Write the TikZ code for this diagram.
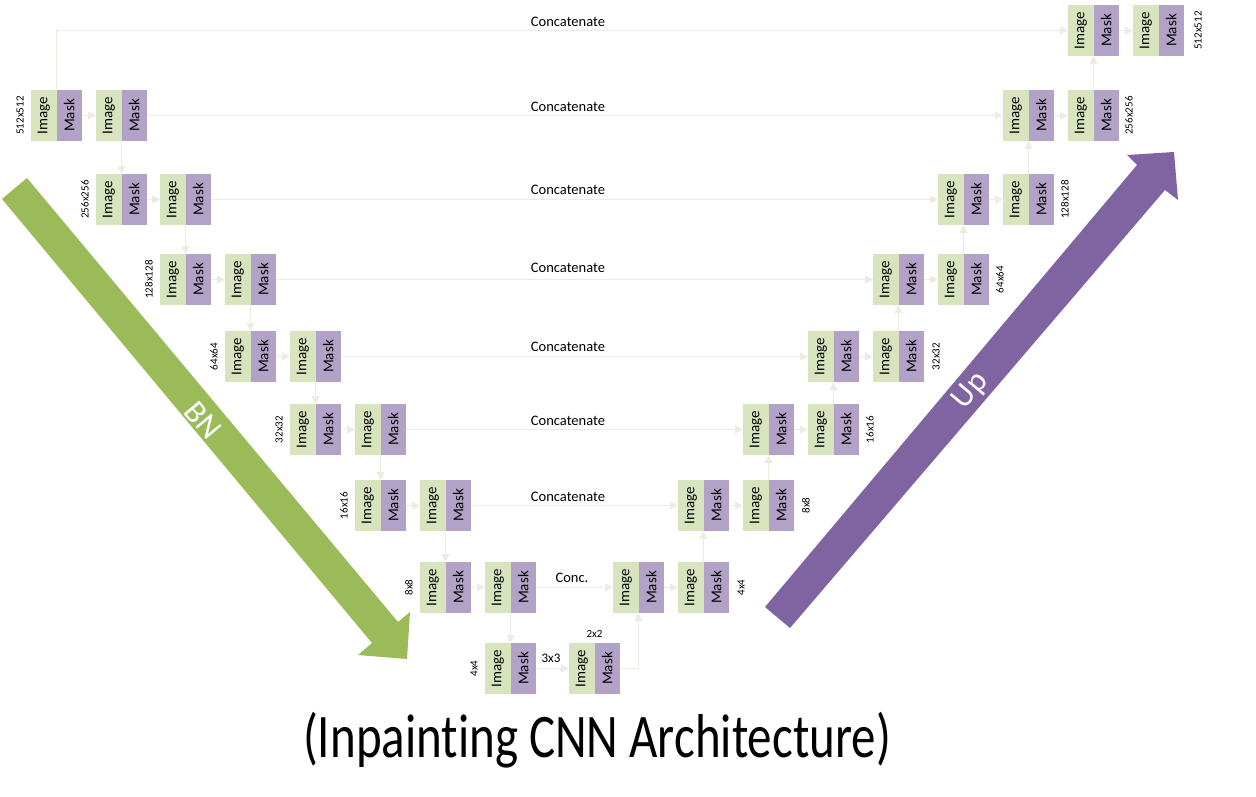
\documentclass[tikz,border=0pt]{standalone}
\usepackage{fontspec}
\setmainfont{Carlito}[Ligatures=NoCommon]
\usepackage{graphicx}
\usetikzlibrary{arrows.meta}
\definecolor{imgc}{HTML}{D7E4BD}
\definecolor{mskc}{HTML}{B3A2C7}
\definecolor{connc}{HTML}{EEECE1}
\definecolor{bnc}{HTML}{9BBB59}
\definecolor{upc}{HTML}{8064A2}
\tikzset{
  partbox/.style={minimum width=25.5pt, minimum height=51pt, inner sep=0pt, outer sep=0pt, font=\fontsize{15}{16}\selectfont},
  imgpart/.style={partbox, fill=imgc},
  mskpart/.style={partbox, fill=mskc},
  link/.style={draw=connc, line width=1.3pt, -{Triangle[length=8pt,width=8pt]}},
  szlab/.style={inner sep=0pt, font=\fontsize{11}{12}\selectfont},
  catlab/.style={inner sep=0pt, font=\fontsize{14.5}{15}\selectfont},
  arrowtext/.style={text=white, inner sep=0pt, font=\fontsize{32}{34}\selectfont},
}
\newcommand\mkblock[3]{%
  \node[imgpart] (#1i) at (#2+12.75,#3+25.5) {\rotatebox{90}{Image}};
  \node[mskpart] (#1m) at (#2+38.25,#3+25.5) {\rotatebox{90}{Mask}};}
\begin{document}
\begin{tikzpicture}[x=1pt,y=-1pt]
\useasboundingbox (0,0) rectangle (1256,797);
% big arrows
\fill[bnc] (27,178) -- (398,622) -- (410,612) -- (407,659) -- (358,655) -- (372,643) -- (2,199) -- cycle;
\fill[upc] (765,607) -- (1137,165) -- (1127,155) -- (1174,152) -- (1178,200) -- (1165,190) -- (790,628) -- cycle;
\node[arrowtext, rotate=-50] (bn) at (203,420) {BN};
\node[arrowtext, rotate=50] (up) at (971,391) {Up};
% blocks left
\mkblock{a0}{31}{90}  \mkblock{b0}{96}{90}
\mkblock{a1}{96}{174} \mkblock{b1}{160}{174}
\mkblock{a2}{160}{254} \mkblock{b2}{225}{254}
\mkblock{a3}{225}{331} \mkblock{b3}{290}{331}
\mkblock{a4}{290}{404} \mkblock{b4}{355}{404}
\mkblock{a5}{355}{480} \mkblock{b5}{420}{480}
\mkblock{a6}{420}{562} \mkblock{b6}{485}{562}
\mkblock{c1}{485}{643} \mkblock{c2}{569}{643}
% blocks right
\mkblock{d6}{613}{562} \mkblock{e6}{678}{562}
\mkblock{d5}{678}{480} \mkblock{e5}{743}{480}
\mkblock{d4}{743}{404} \mkblock{e4}{808}{404}
\mkblock{d3}{808}{331} \mkblock{e3}{873}{331}
\mkblock{d2}{873}{254} \mkblock{e2}{938}{254}
\mkblock{d1}{938}{174} \mkblock{e1}{1003}{174}
\mkblock{d0}{1003}{90} \mkblock{e0}{1068}{90}
\mkblock{t1}{1068}{5}  \mkblock{t2}{1133}{5}
% connectors
\foreach \k in {0,...,6}{
  \draw[link] (a\k m.east) -- (b\k i.west);
  \draw[link] (b\k m.east) -- (d\k i.west);
  \draw[link] (d\k m.east) -- (e\k i.west);
}
\foreach \k/\n in {0/1,1/2,2/3,3/4,4/5,5/6}{
  \draw[link] (b\k i.south east) -- (a\n i.north east);
  \draw[link] (e\n i.north east) -- (d\k i.south east);
}
\draw[link] (b6i.south east) -- (c1i.north east);
\draw[link] (e0i.north east) -- (t1i.south east);
\draw[link] (t1m.east) -- (t2i.west);
\draw[link] (c1m.east) -- (c2i.west);
\draw[link] (a0i.north east) |- (t1i.west);
\draw[link] (c2m.east) -| (d6i.south east);
% concatenate labels
\node[catlab] (k0) at (568,21.5) {Concatenate};
\node[catlab] (k1) at (568,106.5) {Concatenate};
\node[catlab] (k2) at (568,189.5) {Concatenate};
\node[catlab] (k3) at (568,268) {Concatenate};
\node[catlab] (k4) at (568,347) {Concatenate};
\node[catlab] (k5) at (568,421) {Concatenate};
\node[catlab] (k6) at (568,497) {Concatenate};
\node[catlab] (k7) at (572,578) {Conc.};
% size labels
\node[szlab] (sl0) at (20,115.5) {\rotatebox{90}{512x512}};
\node[szlab] (sl1) at (85,199.5) {\rotatebox{90}{256x256}};
\node[szlab] (sl2) at (149,279.5) {\rotatebox{90}{128x128}};
\node[szlab] (sl3) at (214,356.5) {\rotatebox{90}{64x64}};
\node[szlab] (sl4) at (279,429.5) {\rotatebox{90}{32x32}};
\node[szlab] (sl5) at (344,505.5) {\rotatebox{90}{16x16}};
\node[szlab] (sl6) at (409,587.5) {\rotatebox{90}{8x8}};
\node[szlab] (sl7) at (474,668.5) {\rotatebox{90}{4x4}};
\node[szlab] (sr6) at (741,587.5) {\rotatebox{90}{4x4}};
\node[szlab] (sr5) at (806,505.5) {\rotatebox{90}{8x8}};
\node[szlab] (sr4) at (870,429.5) {\rotatebox{90}{16x16}};
\node[szlab] (sr3) at (936,356.5) {\rotatebox{90}{32x32}};
\node[szlab] (sr2) at (1000,279.5) {\rotatebox{90}{64x64}};
\node[szlab] (sr1) at (1065,199.5) {\rotatebox{90}{128x128}};
\node[szlab] (sr0) at (1129,115.5) {\rotatebox{90}{256x256}};
\node[szlab] (srt) at (1198,30.5) {\rotatebox{90}{512x512}};
\node[szlab] (s22) at (594.5,634) {2x2};
\node[szlab, font=\fontsize{13}{14}\selectfont] (s33) at (551,658) {3x3};
% title
\node[inner sep=0pt, font=\fontsize{62}{66}\selectfont, xscale=0.79] (title) at (597,740) {(Inpainting CNN Architecture)};
\end{tikzpicture}
\end{document}
